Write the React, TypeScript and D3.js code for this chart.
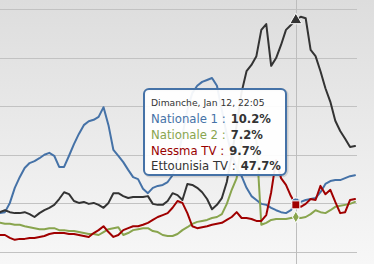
import React from "react";
import * as d3 from "d3";

const W = 374;
const H = 264;

const seriesNames = ["Nationale 1", "Nationale 2", "Nessma TV", "Ettounisia TV"];
const seriesColors = ["#4572A7", "#89A54E", "#A00000", "#333333"];
const labelColors = ["#4572A7", "#89A54E", "#990000", "#333333"];
const markerSymbols = [d3.symbolCircle, d3.symbolDiamond, d3.symbolSquare, d3.symbolTriangle];

const nationale1 = [8.0, 8.2, 10.1, 13.2, 15.4, 17.3, 18.3, 18.7, 19.3, 20.0, 20.4, 19.8, 17.5, 17.5, 19.8, 22.2, 24.3, 26.1, 26.9, 27.2, 27.8, 29.8, 26.1, 21.0, 19.8, 18.5, 16.9, 15.4, 15.0, 13.0, 12.1, 13.2, 13.6, 13.8, 14.4, 15.8, 18.9, 24.1, 29.2, 32.7, 34.2, 35.0, 35.4, 35.8, 34.2, 29.2, 24.1, 20.0, 17.3, 15.6, 13.2, 11.5, 10.7, 9.9, 9.7, 9.1, 8.6, 8.2, 8.0, 8.6, 10.2, 10.3, 10.7, 10.9, 11.1, 12.3, 14.0, 14.6, 14.8, 14.8, 15.2, 15.6, 15.8];
const nationale2 = [6.0, 5.8, 5.8, 5.6, 5.6, 5.3, 5.1, 4.9, 4.7, 4.7, 4.9, 4.9, 4.5, 4.5, 4.3, 4.3, 4.1, 3.9, 3.7, 3.7, 3.5, 4.1, 4.7, 4.9, 5.1, 3.5, 3.9, 4.5, 4.7, 4.9, 4.9, 4.3, 4.1, 3.5, 3.3, 3.3, 3.7, 4.5, 5.1, 5.8, 6.2, 6.4, 6.6, 7.0, 7.2, 7.8, 9.9, 12.8, 15.2, 23.0, 25.1, 25.1, 23.0, 5.6, 6.0, 6.6, 6.8, 6.8, 6.8, 7.0, 7.2, 7.0, 7.2, 7.8, 8.6, 8.2, 8.0, 8.6, 9.3, 9.5, 9.7, 9.9, 10.3];
const nessma = [3.5, 3.5, 2.9, 2.5, 2.7, 2.7, 2.9, 2.9, 3.1, 3.3, 3.7, 3.9, 3.9, 3.9, 3.7, 3.7, 3.5, 3.3, 3.1, 3.9, 4.5, 5.3, 4.1, 3.1, 3.5, 4.5, 4.9, 5.3, 5.3, 5.6, 6.0, 6.6, 7.2, 7.6, 8.0, 9.1, 10.5, 10.1, 8.0, 5.3, 4.9, 5.1, 5.3, 5.6, 5.8, 6.0, 6.6, 7.2, 8.2, 7.0, 7.0, 6.8, 6.4, 6.4, 7.6, 12.3, 18.9, 15.2, 13.8, 11.5, 9.7, 9.3, 9.9, 10.9, 10.7, 13.6, 11.9, 12.8, 10.3, 8.0, 8.2, 10.7, 10.9];
const ettounisia = [8.2, 8.6, 8.2, 8.0, 8.0, 8.2, 7.8, 7.2, 8.0, 8.6, 9.1, 9.7, 10.9, 12.3, 11.9, 10.5, 10.1, 10.3, 9.9, 10.1, 9.7, 9.1, 10.1, 12.1, 12.1, 11.5, 11.1, 11.3, 11.3, 11.3, 11.5, 9.9, 9.7, 9.7, 10.5, 12.1, 11.7, 10.7, 14.0, 13.8, 13.2, 12.3, 10.9, 8.8, 9.7, 11.1, 14.4, 20.0, 26.1, 32.9, 37.2, 38.5, 40.3, 45.7, 46.9, 38.3, 39.9, 42.6, 45.7, 46.7, 47.7, 48.4, 48.1, 41.6, 40.3, 37.2, 33.7, 30.9, 27.0, 24.9, 23.3, 21.6, 21.8];

const allSeries = [nationale1, nationale2, nessma, ettounisia];
const yTicks = [0, 10, 20, 30, 40, 50];
const hoverIndex = 60;
const tooltipHeader = "Dimanche, Jan 12, 22:05";

export default function App() {
  const x = d3.scaleLinear().domain([0, nationale1.length - 1]).range([0, 355]);
  const y = d3.scaleLinear().domain([0, 50]).range([252, 9]);
  const line = d3
    .line<number>()
    .x((_, i) => x(i))
    .y((d) => y(d));

  const hx = x(hoverIndex);
  const tip = { x: 144, y: 89, w: 142, h: 86 };
  const rowBase = [123, 139, 154.5, 170];

  return (
    <svg
      width={W}
      height={H}
      style={{ position: "absolute", left: 0, top: 0, fontFamily: "'DejaVu Sans', Verdana, sans-serif" }}
    >
      <defs>
        <linearGradient id="bg" x1="0" y1="0" x2="0" y2="1">
          <stop offset="0" stopColor="#dddddd" />
          <stop offset="1" stopColor="#f7f7f7" />
        </linearGradient>
      </defs>
      <rect x={0} y={0} width={W} height={H} fill="url(#bg)" />
      {yTicks.map((t) => (
        <line key={t} x1={0} x2={357} y1={Math.round(y(t)) + 0.5} y2={Math.round(y(t)) + 0.5} stroke="#c2c2c2" strokeWidth={1} />
      ))}
      <line x1={Math.round(hx) + 0.5} x2={Math.round(hx) + 0.5} y1={0} y2={H} stroke="#bdbdbd" strokeWidth={1} />
      {allSeries.map((s, i) => (
        <path key={i} d={line(s) || ""} fill="none" stroke={seriesColors[i]} strokeWidth={2} strokeLinejoin="round" strokeLinecap="round" />
      ))}
      {allSeries.map((s, i) => (
        <path
          key={"m" + i}
          d={d3.symbol().type(markerSymbols[i]).size(i === 1 ? 40 : 64)() || ""}
          transform={`translate(${hx},${y(s[hoverIndex])})`}
          fill={seriesColors[i]}
          stroke="#ffffff"
          strokeWidth={1}
        />
      ))}
      <rect x={tip.x + 1} y={tip.y + 1} width={tip.w} height={tip.h} rx={5} fill="none" stroke="rgba(0,0,0,0.12)" strokeWidth={3} />
      <rect x={tip.x} y={tip.y} width={tip.w} height={tip.h} rx={5} fill="rgba(255,255,255,0.93)" stroke="#4572A7" strokeWidth={2} />
      <text x={151} y={106} fontSize={9.2} fill="#333333">
        {tooltipHeader}
      </text>
      {allSeries.map((s, i) => (
        <text key={"t" + i} x={151} y={rowBase[i]} fontSize={11.7}>
          <tspan fill={labelColors[i]}>{seriesNames[i] + " :"}</tspan>
          <tspan dx={5} fill="#333333" fontWeight="bold" fontSize={11.6}>
            {d3.format(".1f")(s[hoverIndex]) + "%"}
          </tspan>
        </text>
      ))}
    </svg>
  );
}
